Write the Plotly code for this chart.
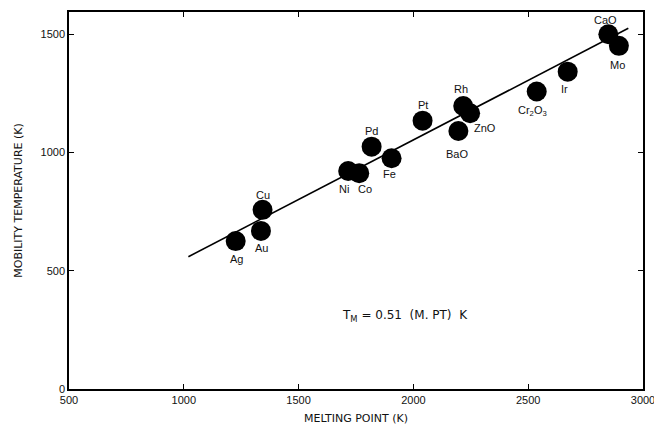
import plotly.graph_objects as go

# Data
materials = ["Ag", "Au", "Cu", "Ni", "Co", "Pd", "Fe", "Pt", "Rh", "ZnO", "BaO",
             "Cr<sub>2</sub>O<sub>3</sub>", "Ir", "CaO", "Mo"]
melting_point = [1226, 1336, 1343, 1716, 1764, 1818, 1905, 2040, 2217, 2247, 2196,
                 2537, 2672, 2849, 2895]
mobility_temp = [625, 668, 757, 921, 912, 1024, 975, 1134, 1196, 1165, 1090,
                 1257, 1341, 1499, 1450]

fit_x = [1020, 2936]
fit_y = [559, 1524]

x_ticks = [500, 1000, 1500, 2000, 2500, 3000]
y_ticks = [0, 500, 1000, 1500]

# label offsets in pixels (style, not data)
label_shift = {
    "Ag": (1, -18), "Au": (1, -17), "Cu": (0, 15), "Ni": (-4, -18), "Co": (6, -16),
    "Pd": (0, 16), "Fe": (-2, -16), "Pt": (0, 16), "Rh": (-2, 17), "ZnO": (15, -15),
    "BaO": (-1, -23), "Cr<sub>2</sub>O<sub>3</sub>": (-4, -19), "Ir": (-3, -17),
    "CaO": (-3, 14), "Mo": (-1, -19),
}

FONT = "Liberation Sans, Arial, sans-serif"
TFONT = "DejaVu Sans, sans-serif"

fig = go.Figure()
fig.add_trace(go.Scatter(x=fit_x, y=fit_y, mode="lines",
                         line=dict(color="black", width=1.6), hoverinfo="skip"))
fig.add_trace(go.Scatter(x=melting_point, y=mobility_temp, mode="markers",
                         marker=dict(color="black", size=20, line=dict(width=0))))

for name, xv, yv in zip(materials, melting_point, mobility_temp):
    dx, dy = label_shift[name]
    fig.add_annotation(x=xv, y=yv, text=name, showarrow=False,
                       xshift=dx, yshift=dy,
                       font=dict(family=FONT, size=11, color="#111"))

fig.add_annotation(x=1680, y=309, text="T<sub>M</sub> = 0.51  (M. PT)  K",
                   showarrow=False, xanchor="left", yanchor="middle",
                   font=dict(family=TFONT, size=12, color="#111"))

fig.update_layout(
    width=654, height=425,
    margin=dict(l=69, r=11, t=12, b=36),
    paper_bgcolor="white", plot_bgcolor="white",
    showlegend=False,
    font=dict(family=FONT, size=11, color="#111"),
)
fig.update_xaxes(range=[500, 3000], tickvals=x_ticks, ticks="inside", ticklen=5,
                 tickcolor="black", showgrid=False, zeroline=False, automargin=False,
                 ticklabeloverflow="allow",
                 showline=True, linecolor="black", linewidth=1.5, mirror="ticks",
                 tickfont=dict(family=FONT, size=11, color="#111"),
                 title=dict(text="MELTING POINT (K)", standoff=10,
                            font=dict(family=TFONT, size=11, color="#111")))
fig.update_yaxes(range=[0, 1593], tickvals=y_ticks, ticks="inside", ticklen=5,
                 tickcolor="black", showgrid=False, zeroline=False, automargin=False,
                 ticklabeloverflow="allow",
                 showline=True, linecolor="black", linewidth=1.5, mirror="ticks",
                 tickfont=dict(family=FONT, size=11, color="#111"),
                 title=dict(text="MOBILITY TEMPERATURE (K)", standoff=16,
                            font=dict(family=TFONT, size=11, color="#111")))

fig.write_html("out.html")
